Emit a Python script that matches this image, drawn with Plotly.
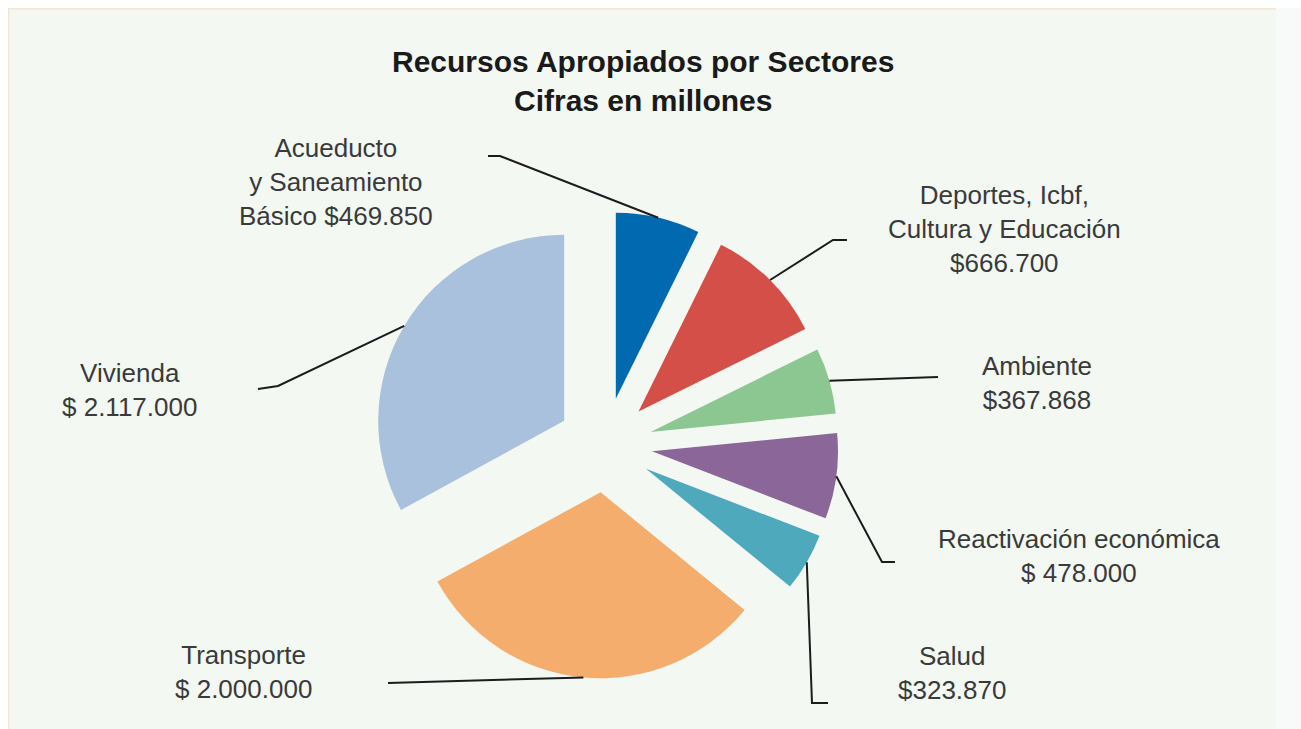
import math
import plotly.graph_objects as go

# ---------------- data ----------------
sectores = [
    "Acueducto y Saneamiento Básico",
    "Deportes, Icbf, Cultura y Educación",
    "Ambiente",
    "Reactivación económica",
    "Salud",
    "Transporte",
    "Vivienda",
]
valores = [469850, 666700, 367868, 478000, 323870, 2000000, 2117000]
etiquetas = [
    "Acueducto<br>y Saneamiento<br>Básico $469.850",
    "Deportes, Icbf,<br>Cultura y Educación<br>$666.700",
    "Ambiente<br>$367.868",
    "Reactivación económica<br>$ 478.000",
    "Salud<br>$323.870",
    "Transporte<br>$ 2.000.000",
    "Vivienda<br>$ 2.117.000",
]
colores = ["#0069b0", "#d44f47", "#8cc691", "#8a6699", "#4fa9bd", "#f5ad6d", "#aac1de"]

titulo1 = "Recursos Apropiados por Sectores"
titulo2 = "Cifras en millones"

# ---------------- layout (window pixel units) ----------------
OFF = 8                      # page margin (top / left)
W, H = 1293, 721             # figure size
CX, CY, R = 605, 445, 186    # pie centre / radius in window px
PULL = 0.255

# label centres (window px)
label_pos = [(336, 182), (1004, 229), (1037, 383), (1079, 556),
             (952, 673), (243, 672), (129, 390)]
# leader line bends after the slice anchor (window px)
leader_pts = [
    [(500, 156), (488, 156)],
    [(833, 240), (847, 240)],
    [(938, 377)],
    [(882, 562), (895, 562)],
    [(812, 703), (828, 703)],
    [(388, 683)],
    [(278, 386), (258, 389)],
]


def px(x):
    return (x - OFF) / W


def py(y):
    return 1 - (y - OFF) / H


# pie domain derived from centre & radius (plotly: r = box / (2 + 2*maxPull))
box = R * (2 + 2 * PULL)
dom_x = [px(CX - box / 2), px(CX + box / 2)]
dom_y = [py(CY + box / 2), py(CY - box / 2)]

fig = go.Figure(go.Pie(
    labels=sectores,
    values=valores,
    sort=False,
    direction="clockwise",
    rotation=0,
    pull=[PULL] * len(valores),
    marker=dict(colors=colores, line=dict(width=0)),
    textinfo="none",
    hoverinfo="label+value",
    showlegend=False,
    domain=dict(x=dom_x, y=dom_y),
))

shapes = []
annotations = []

total = sum(valores)
cum = 0.0
for i, v in enumerate(valores):
    mid = (cum + v / 2) / total * 2 * math.pi
    cum += v
    dx, dy = math.sin(mid), -math.cos(mid)
    ax = CX + R * (1 + PULL) * dx
    ay = CY + R * (1 + PULL) * dy
    pts = [(ax, ay)] + leader_pts[i]
    path = "M {} {}".format(px(pts[0][0]), py(pts[0][1]))
    for (x, y) in pts[1:]:
        path += " L {} {}".format(px(x), py(y))
    shapes.append(dict(type="path", path=path, xref="paper", yref="paper",
                       line=dict(color="#1c1c1c", width=2)))
    lx, ly = label_pos[i]
    annotations.append(dict(
        text=etiquetas[i], x=px(lx), y=py(ly), xref="paper", yref="paper",
        xanchor="center", yanchor="middle", align="center", showarrow=False,
        font=dict(family="Liberation Sans, Arial, sans-serif", size=26, color="#3a3a3a"),
    ))

# titles
for txt, yy in [(titulo1, 62), (titulo2, 101)]:
    annotations.append(dict(
        text="<b>" + txt + "</b>", x=px(643), y=py(yy), xref="paper", yref="paper",
        xanchor="center", yanchor="middle", showarrow=False,
        font=dict(family="Liberation Sans, Arial, sans-serif", size=30, color="#1a1a1a"),
    ))

# panel edges
shapes.append(dict(type="rect", xref="paper", yref="paper", x0=px(1276), x1=1, y0=0, y1=1,
                   fillcolor="#f7faf8", line=dict(width=0), layer="below"))
shapes.append(dict(type="line", xref="paper", yref="paper", x0=0, x1=px(1276), y0=1, y1=1,
                   line=dict(color="#f6e6cf", width=3)))
shapes.append(dict(type="line", xref="paper", yref="paper", x0=0, x1=0, y0=0, y1=1,
                   line=dict(color="#f6e6cf", width=3)))

fig.update_layout(
    width=W, height=H,
    margin=dict(l=0, r=0, t=0, b=0),
    paper_bgcolor="#f3f8f3",
    plot_bgcolor="#f3f8f3",
    shapes=shapes,
    annotations=annotations,
)

fig.write_html("out.html", post_script="document.body.style.margin='8px 0 0 8px';")
